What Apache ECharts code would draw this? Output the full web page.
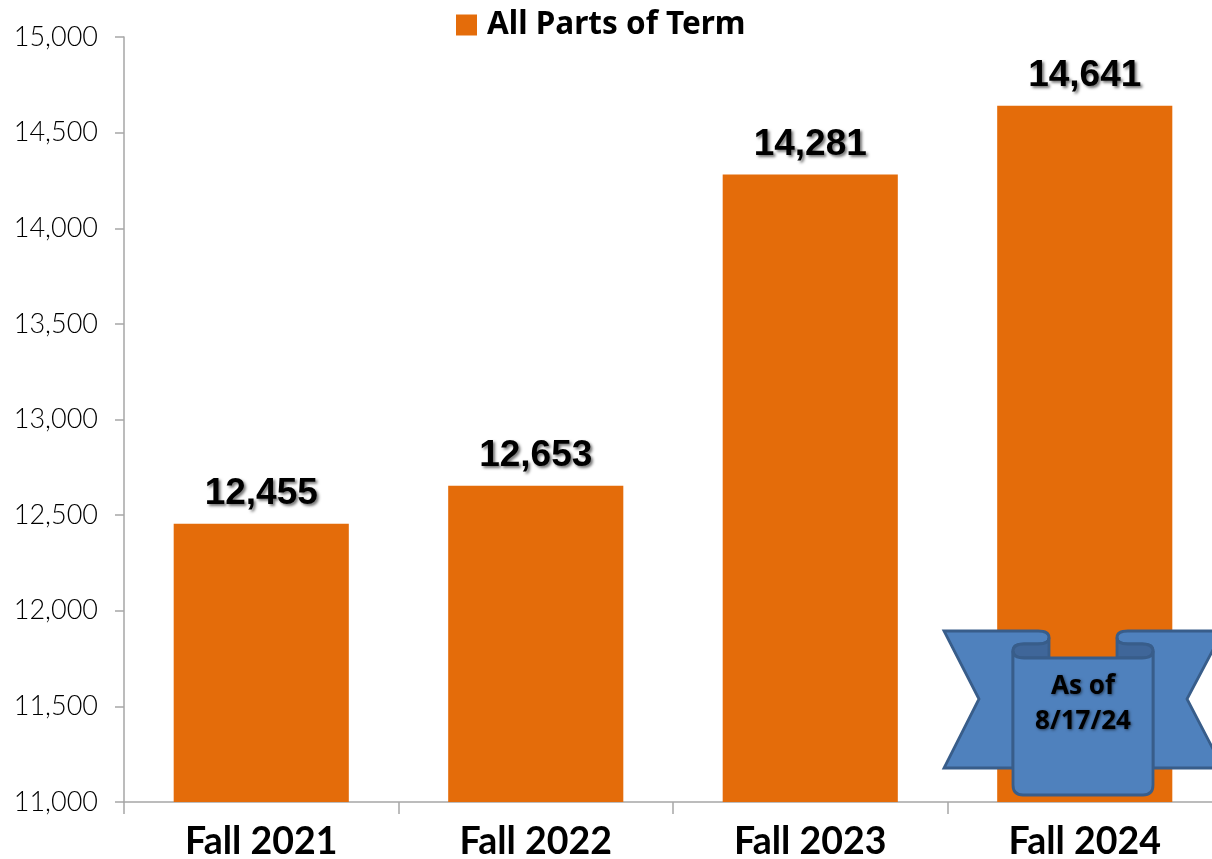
<!DOCTYPE html>
<html><head><meta charset="utf-8">
<style>html,body{margin:0;padding:0;background:#fff;overflow:hidden}#c{width:1212px;height:859px}</style>
<script src="https://cdn.jsdelivr.net/npm/echarts@6/dist/echarts.min.js"></script>
</head><body><div id="c"></div>
<script>
const categories = ['Fall 2021','Fall 2022','Fall 2023','Fall 2024'];
const seriesName = 'All Parts of Term';
const values = [12455,12653,14281,14641];
const noteLines = 'As of\n8/17/24';
const chart = echarts.init(document.getElementById('c'),null,{renderer:'canvas'});
const ribbonStyle = {fill:'#4f81bd',stroke:'#385d8a',lineWidth:2.8};
const foldStyle = {fill:'#3f6699',stroke:'#385d8a',lineWidth:2.8};
function piece(d,x,y,w,h,style){
  return {type:'path',shape:{pathData:d,x:x,y:y,width:w,height:h,layout:'cover'},style:style};
}
function renderRibbon(){
  return {type:'group',children:[
    piece('M944 631 L1038 631 Q1049 631 1049 637.5 Q1049 644 1038 644 L1024 644 Q1013 644 1013 651 L1013 768 L944 768 L979 699 Z',944,631,105,137,ribbonStyle),
    piece('M1223 631 L1128 631 Q1117 631 1117 637.5 Q1117 644 1128 644 L1142 644 Q1153 644 1153 651 L1153 768 L1223 768 L1187 699 Z',1117,631,106,137,ribbonStyle),
    piece('M1013 651 Q1013 644 1024 644 L1038 644 Q1049 644 1049 637.5 L1049 658 L1024 658 Q1013 658 1013 651 Z',1013,637.5,36,20.5,foldStyle),
    piece('M1153 651 Q1153 644 1142 644 L1128 644 Q1117 644 1117 637.5 L1117 658 L1142 658 Q1153 658 1153 651 Z',1117,637.5,36,20.5,foldStyle),
    piece('M1013 651 Q1013 658 1024 658 L1142 658 Q1153 658 1153 651 L1153 785 Q1153 795 1143 795 L1023 795 Q1013 795 1013 785 Z',1013,651,140,144,ribbonStyle),
    {type:'text',x:1083,y:704,style:{text:noteLines,align:'center',verticalAlign:'middle',
      font:'bold 26px "Noto Sans"',lineHeight:35,fill:'#000',
      textShadowColor:'rgba(0,0,0,0.55)',textShadowBlur:3,textShadowOffsetX:1,textShadowOffsetY:1}}
  ]};
}
chart.setOption({
  animation:false,
  backgroundColor:'#fff',
  grid:{left:124,right:-10,top:37,bottom:57,containLabel:false,outerBoundsMode:'none'},
  legend:{left:451,top:4,itemWidth:21,itemHeight:21,icon:'rect',
    data:[seriesName],
    textStyle:{fontFamily:'Noto Sans',fontWeight:'bold',fontSize:31.5,color:'#000',padding:[0,0,0,5]}},
  xAxis:{type:'category',data:categories,
    axisLine:{lineStyle:{color:'#a6a6a6',width:1.5}},
    axisTick:{show:true,length:12,alignWithLabel:false,lineStyle:{color:'#a6a6a6',width:1.5}},
    axisLabel:{fontFamily:'Lato',fontWeight:'bold',fontSize:37.5,color:'#000',margin:21,interval:0}},
  yAxis:{type:'value',min:11000,max:15000,interval:500,
    splitLine:{show:false},
    axisLine:{show:true,lineStyle:{color:'#a6a6a6',width:1.5}},
    axisTick:{show:true,length:9,lineStyle:{color:'#a6a6a6',width:1.5}},
    axisLabel:{fontFamily:'Lato',fontWeight:300,fontSize:27,color:'#000',margin:26,
      formatter:v=>v.toLocaleString('en-US')}},
  series:[{name:seriesName,type:'bar',data:values,barWidth:'63.8%',
    itemStyle:{color:'#e46c0a'},
    label:{show:true,position:'top',distance:11.5,
      fontFamily:'Liberation Sans',fontWeight:'bold',fontSize:37,color:'#000',
      textShadowColor:'rgba(0,0,0,0.55)',textShadowBlur:3,textShadowOffsetX:2,textShadowOffsetY:2,
      formatter:p=>p.value.toLocaleString('en-US')}},
    {type:'custom',name:'note',data:[[3,11000]],clip:false,silent:true,z:5,renderItem:renderRibbon}]
});
</script></body></html>
